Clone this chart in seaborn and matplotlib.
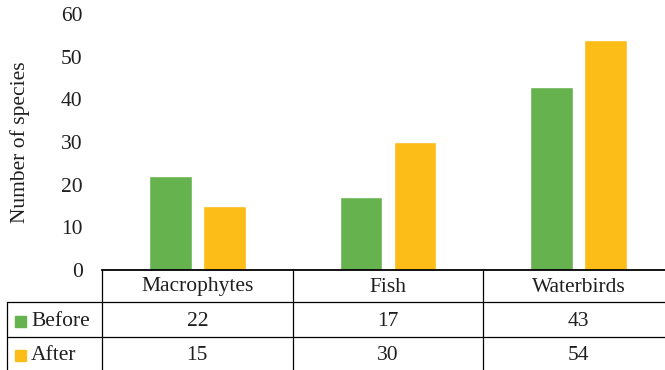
import matplotlib
matplotlib.use("Agg")
import matplotlib.pyplot as plt
import seaborn as sns
import pandas as pd
from matplotlib.patches import Rectangle

categories = ["Macrophytes", "Fish", "Waterbirds"]
before = [22, 17, 43]
after = [15, 30, 54]
series = ["Before", "After"]
colors = ["#65B24F", "#FDBD18"]
yticks = [0, 10, 20, 30, 40, 50, 60]

df = pd.DataFrame({
    "Group": categories * 2,
    "Period": [series[0]] * 3 + [series[1]] * 3,
    "Species": before + after,
})

sns.set_theme(style="white")
plt.rcParams["font.family"] = ["Liberation Serif", "DejaVu Serif"]
FS = 15.5
TC = "#1f1f1f"

W, H = 665, 370
fig = plt.figure(figsize=(W / 100, H / 100), dpi=100)
L, R, B, T = 102, 674, 270, 14
ax = fig.add_axes([L / W, 1 - B / H, (R - L) / W, (B - T) / H])

sns.barplot(data=df, x="Group", y="Species", hue="Period", palette=colors,
            width=0.566, gap=0.204, legend=False, ax=ax, saturation=1)

ax.set_xlim(-0.5, 2.5)
ax.set_ylim(0, 60)
ax.set_yticks(yticks)
ax.set_yticklabels([str(t) for t in yticks], fontsize=FS, color=TC)
ax.tick_params(axis="y", length=0, pad=14)
ax.set_xticks([])
ax.set_xlabel("")
ax.set_ylabel("Number of species", fontsize=FS, color=TC, labelpad=22)
for s in ["left", "right", "top"]:
    ax.spines[s].set_visible(False)
ax.spines["bottom"].set_color("black")
ax.spines["bottom"].set_linewidth(1.3)

# data table below the axis
pxh = B - T
def ay(py):
    return (B - py) / pxh
def axx(px):
    return (px - L) / (R - L)

lw = 0.9
line_kw = dict(color="black", lw=lw, transform=ax.transAxes, clip_on=False)
y_h, y_r1, y_r2, y_bot = ay(270), ay(302), ay(337), ay(372)
x_left = axx(7)
ax.plot([x_left, 1], [y_r1, y_r1], **line_kw)
ax.plot([x_left, 1], [y_r2, y_r2], **line_kw)
ax.plot([0, 0], [y_h, y_bot], **line_kw)
ax.plot([x_left, x_left], [y_r1, y_bot], **line_kw)
tr = ax.get_xaxis_transform()
for i in range(len(categories) - 1):
    ax.plot([i + 0.5, i + 0.5], [y_h, y_bot], color="black", lw=lw,
            transform=tr, clip_on=False)

txt_kw = dict(fontsize=FS, color=TC, ha="center", va="center",
              transform=tr, clip_on=False)
for i, c in enumerate(categories):
    ax.text(i, ay(287), c, **txt_kw)
for i, v in enumerate(before):
    ax.text(i, ay(321), str(v), **txt_kw)
for i, v in enumerate(after):
    ax.text(i, ay(355), str(v), **txt_kw)

for name, col, cy in [(series[0], colors[0], 321), (series[1], colors[1], 355)]:
    sq = 11
    ax.add_patch(Rectangle((axx(15), ay(cy + sq / 2)), sq / (R - L), sq / pxh,
                           transform=ax.transAxes, color=col, clip_on=False))
    ax.text(axx(31), ay(cy), name, fontsize=FS, color=TC, ha="left",
            va="center", transform=ax.transAxes, clip_on=False)

fig.savefig("out.png", dpi=100)
